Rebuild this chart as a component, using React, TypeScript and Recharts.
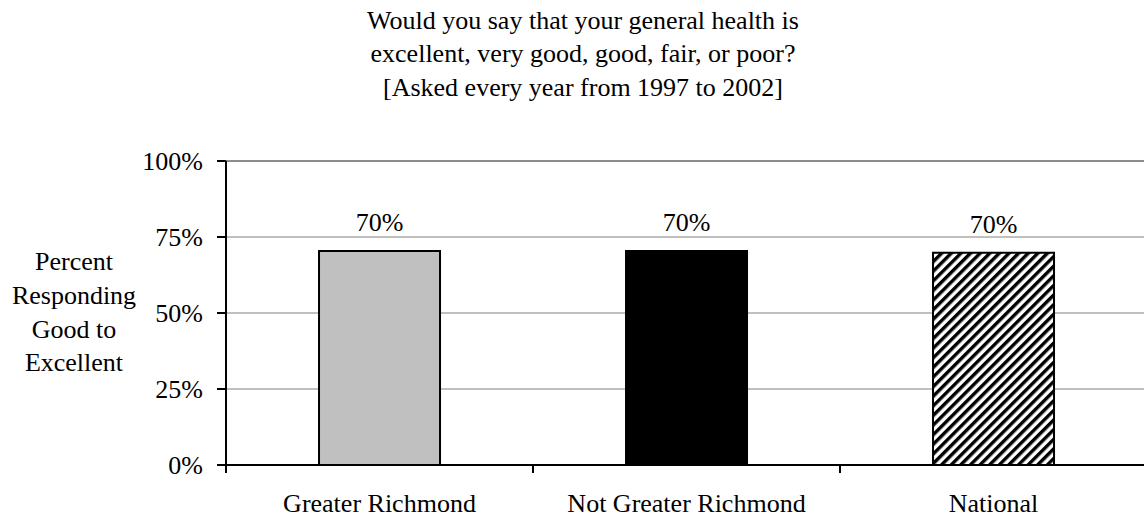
import React from "react";
import {
  BarChart,
  Bar,
  XAxis,
  YAxis,
  CartesianGrid,
  ReferenceLine,
  LabelList,
  Cell,
} from "recharts";

// survey results: share answering good / very good / excellent
const categories = ["Greater Richmond", "Not Greater Richmond", "National"];
const percentGood = [70.4, 70.4, 69.8];
const yTicks = [0, 25, 50, 75, 100];

const titleLines = [
  "Would you say that your general health is",
  "excellent, very good, good, fair, or poor?",
  "[Asked every year from 1997 to 2002]",
];
const yLabelLines = ["Percent", "Responding", "Good to", "Excellent"];

const data = categories.map((name, i) => ({ name, value: percentGood[i] }));

const FONT = '"Liberation Serif", "Times New Roman", serif';
const FONT_SIZE = 26;

const CHART_W = 1160;
const CHART_H = 519;
const MARGIN = { top: 161, right: 13, bottom: 0, left: 0 };
const Y_AXIS_W = 226;
const X_AXIS_H = 54;
const X_TICK_SIZE = 8;
const X_TICK_MARGIN = 21;
const PLOT_W = CHART_W - MARGIN.left - MARGIN.right - Y_AXIS_W;

const TITLE_X = 583;
const Y_LABEL_X = 74;

const FILLS = ["#c0c0c0", "#000000", "url(#diagHatch)"];

// category labels centred in each band, tick marks on the band edges
function CategoryTick(props: any) {
  const { x, y, payload, index } = props;
  const half = PLOT_W / categories.length / 2;
  const axisY = y - X_TICK_SIZE - X_TICK_MARGIN;
  const edges = index === categories.length - 1 ? [x - half, x + half] : [x - half];
  return (
    <g>
      {edges.map((ex) => (
        <line
          key={ex}
          x1={ex}
          x2={ex}
          y1={axisY}
          y2={axisY + X_TICK_SIZE}
          stroke="#000"
          strokeWidth={2}
        />
      ))}
      <text
        x={x}
        y={y}
        dy="0.71em"
        textAnchor="middle"
        fill="#000"
        fontSize={FONT_SIZE}
        fontFamily={FONT}
      >
        {payload.value}
      </text>
    </g>
  );
}

export default function App() {
  return (
    <div
      style={{
        position: "fixed",
        left: 0,
        top: 0,
        width: 1144,
        height: 519,
        overflow: "hidden",
        background: "#fff",
      }}
    >
      <BarChart
        width={CHART_W}
        height={CHART_H}
        data={data}
        margin={MARGIN}
        barCategoryGap="30.3%"
      >
        <defs>
          <pattern
            id="diagHatch"
            patternUnits="userSpaceOnUse"
            width={6.8}
            height={6.8}
            patternTransform="rotate(45)"
          >
            <rect width={6.8} height={6.8} fill="#fff" />
            <rect width={3.4} height={6.8} fill="#000" />
          </pattern>
        </defs>

        <text
          x={TITLE_X}
          y={0}
          textAnchor="middle"
          fill="#000"
          fontSize={FONT_SIZE}
          fontFamily={FONT}
        >
          {titleLines.map((line, i) => (
            <tspan key={line} x={TITLE_X} y={28.5 + i * 33.8}>
              {line}
            </tspan>
          ))}
        </text>

        <text
          x={Y_LABEL_X}
          y={0}
          textAnchor="middle"
          fill="#000"
          fontSize={FONT_SIZE}
          fontFamily={FONT}
        >
          {yLabelLines.map((line, i) => (
            <tspan key={line} x={Y_LABEL_X} y={270 + i * 33.8}>
              {line}
            </tspan>
          ))}
        </text>

        <CartesianGrid vertical={false} stroke="#c0c0c0" strokeWidth={2} />
        <ReferenceLine y={100} stroke="#8c8c8c" strokeWidth={2} />

        <XAxis
          dataKey="name"
          height={X_AXIS_H}
          axisLine={{ stroke: "#000", strokeWidth: 2 }}
          tickLine={false}
          tickSize={X_TICK_SIZE}
          tickMargin={X_TICK_MARGIN}
          tick={<CategoryTick />}
          interval={0}
        />
        <YAxis
          width={Y_AXIS_W}
          domain={[0, 100]}
          ticks={yTicks}
          tickFormatter={(v: number) => `${v}%`}
          axisLine={{ stroke: "#000", strokeWidth: 2 }}
          tickLine={{ stroke: "#000", strokeWidth: 2 }}
          tickSize={9}
          tickMargin={14}
          tick={{ fill: "#000", fontSize: FONT_SIZE, fontFamily: FONT }}
        />

        <Bar
          dataKey="value"
          stroke="#000"
          strokeWidth={2}
          isAnimationActive={false}
        >
          {data.map((d, i) => (
            <Cell key={d.name} fill={FILLS[i]} />
          ))}
          <LabelList
            dataKey="value"
            position="top"
            offset={20}
            formatter={(v: any) => `${Math.round(Number(v))}%`}
            fill="#000"
            fontSize={FONT_SIZE}
            fontFamily={FONT}
          />
        </Bar>
      </BarChart>
    </div>
  );
}
